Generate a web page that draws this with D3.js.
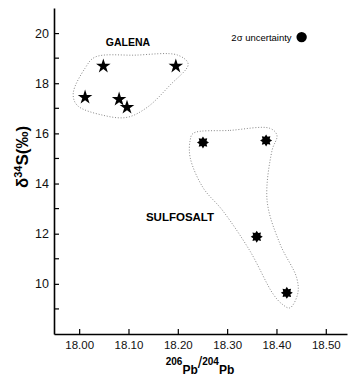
<!DOCTYPE html>
<html>
<head>
<meta charset="utf-8">
<script src="https://cdn.jsdelivr.net/npm/d3@7"></script>
<style>
  html, body { margin: 0; padding: 0; background: #fff; }
  svg { display: block; font-family: "Liberation Sans", Arial, sans-serif; }
</style>
</head>
<body>
<svg id="chart" width="348" height="378"></svg>
<script>
// Galena analyses: 206Pb/204Pb and δ34S (‰)
const galenaPb = [18.049, 18.196, 18.012, 18.081, 18.097];
const galenaS  = [18.68, 18.68, 17.44, 17.36, 17.04];

// Sulfosalt analyses
const sulfoPb = [18.251, 18.379, 18.360, 18.421];
const sulfoS  = [15.64, 15.72, 11.88, 9.64];

// Dotted outlines around each group (206Pb/204Pb, δ34S)
const galenaHullPb = [18.032, 18.113, 18.200, 18.221, 18.184, 18.138, 18.097, 18.049, 17.996, 17.988, 18.012];
const galenaHullS  = [19.04, 19.12, 19.12, 18.76, 17.92, 17.04, 16.64, 16.72, 17.12, 17.60, 18.60];
const sulfoHullPb = [18.231, 18.306, 18.387, 18.401, 18.391, 18.381, 18.407, 18.441, 18.443, 18.427, 18.411, 18.393, 18.346, 18.291, 18.251, 18.225, 18.225];
const sulfoHullS  = [16.00, 16.12, 16.20, 15.92, 15.32, 13.32, 11.60, 10.24, 9.60, 9.04, 9.20, 9.60, 11.32, 12.92, 13.84, 15.04, 15.72];

// Axis ticks
const xTicks = [18.00, 18.10, 18.20, 18.30, 18.40, 18.50];
const yMajor = [10, 12, 14, 16, 18, 20];
const yMinor = [9, 11, 13, 15, 17, 19];

// 2σ uncertainty marker
const sigmaPb = 18.451;
const sigmaS = 19.84;

const svg = d3.select("#chart");
const x = d3.scaleLinear().domain([17.949, 18.543]).range([54, 347]);
const y = d3.scaleLinear().domain([8, 21]).range([334, 8]);

// Axes: ticks point inward
const xAxis = d3.axisBottom(x).tickValues(xTicks).tickSizeInner(-5).tickSizeOuter(0)
  .tickPadding(7).tickFormat(d3.format(".2f"));
const gx = svg.append("g").attr("transform", `translate(0,${y(8)})`).call(xAxis);

const yAxis = d3.axisLeft(y).tickValues(yMajor).tickSizeInner(-5).tickSizeOuter(0)
  .tickPadding(5).tickFormat(d3.format("d"));
const gy = svg.append("g").attr("transform", `translate(${x(17.949)},0)`).call(yAxis);
gy.selectAll(".minor").data(yMinor).enter().append("line")
  .attr("class", "minor").attr("x1", 0).attr("x2", 5)
  .attr("y1", d => y(d)).attr("y2", d => y(d))
  .attr("stroke", "#000").attr("stroke-width", 1.2);

[gx, gy].forEach(g => {
  g.select(".domain").attr("stroke", "#000").attr("stroke-width", 1.6);
  g.selectAll(".tick line").attr("stroke", "#000").attr("stroke-width", 1.2);
  g.selectAll(".tick text").attr("font-size", 11.5).attr("fill", "#111")
    .attr("font-family", "'Liberation Sans', Arial, sans-serif");
});
gy.selectAll(".tick text").attr("font-size", 12.5);

// Group outlines
const line = d3.line().x(d => x(d[0])).y(d => y(d[1])).curve(d3.curveCatmullRomClosed.alpha(0.5));
const hulls = [
  d3.zip(galenaHullPb, galenaHullS),
  d3.zip(sulfoHullPb, sulfoHullS)
];
svg.append("g").selectAll("path").data(hulls).enter().append("path")
  .attr("d", line).attr("fill", "none").attr("stroke", "#888")
  .attr("stroke-width", 1).attr("stroke-dasharray", "1,1.8");

// Galena stars
const star = d3.symbol().type(d3.symbolStar).size(66);
svg.append("g").selectAll("path").data(d3.zip(galenaPb, galenaS)).enter().append("path")
  .attr("d", star).attr("transform", d => `translate(${x(d[0])},${y(d[1])})`)
  .attr("fill", "#000");

// Sulfosalt bursts (8-pointed)
function burst(rOut, rIn, n) {
  const pts = [];
  for (let i = 0; i < 2 * n; i++) {
    const a = Math.PI * i / n - Math.PI / 2;
    const r = i % 2 === 0 ? rOut : rIn;
    pts.push([r * Math.cos(a), r * Math.sin(a)]);
  }
  return "M" + pts.map(p => p.join(",")).join("L") + "Z";
}
svg.append("g").selectAll("path").data(d3.zip(sulfoPb, sulfoS)).enter().append("path")
  .attr("d", burst(6, 3.9, 8)).attr("transform", d => `translate(${x(d[0])},${y(d[1])})`)
  .attr("fill", "#000");

// Group labels
svg.append("text").attr("x", 128).attr("y", 46).attr("text-anchor", "middle")
  .attr("font-weight", "bold").attr("font-size", 10.5).text("GALENA");
svg.append("text").attr("x", 180).attr("y", 221).attr("text-anchor", "middle")
  .attr("font-weight", "bold").attr("font-size", 11.5).text("SULFOSALT");

// Uncertainty key
svg.append("circle").attr("cx", x(sigmaPb)).attr("cy", y(sigmaS)).attr("r", 5.2).attr("fill", "#000");
svg.append("text").attr("x", x(sigmaPb) - 10).attr("y", y(sigmaS) + 3.5).attr("text-anchor", "end")
  .attr("font-size", 9.5).text("2σ uncertainty");

// Axis titles
const xt = svg.append("text").attr("x", 200).attr("y", 374).attr("text-anchor", "middle")
  .attr("font-weight", "bold").attr("font-size", 12);
xt.append("tspan").attr("font-size", 10).attr("dy", -9).text("206");
xt.append("tspan").attr("dy", 9).text("Pb");
xt.append("tspan").attr("font-size", 16).attr("font-weight", "normal").attr("dy", -6).text("/");
xt.append("tspan").attr("font-size", 10).attr("dy", -3).text("204");
xt.append("tspan").attr("dy", 9).text("Pb");

const yt = svg.append("text").attr("transform", "translate(28,157) rotate(-90)")
  .attr("text-anchor", "middle").attr("font-weight", "bold").attr("font-size", 17);
yt.append("tspan").text("δ");
yt.append("tspan").attr("font-size", 11).attr("dy", -6).text("34");
yt.append("tspan").attr("dy", 6).text("S(‰)");
</script>
</body>
</html>
